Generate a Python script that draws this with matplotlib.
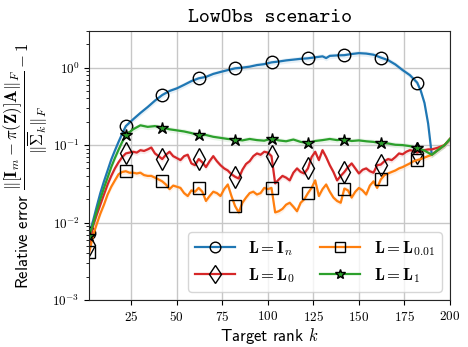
import numpy as np
import matplotlib
matplotlib.use('Agg')
import matplotlib.pyplot as plt

plt.rcParams['font.family'] = 'serif'
plt.rcParams['font.serif'] = ['cmr10']
plt.rcParams['mathtext.fontset'] = 'cm'
plt.rcParams['axes.unicode_minus'] = False
plt.rcParams['axes.formatter.use_mathtext'] = True

# marker positions (every 20 ranks, starting at k=2)
mark_k = [2, 22, 42, 62, 82, 102, 122, 142, 162, 182]

# L = I_n (blue)
k_in = [2, 4, 6, 8, 10, 12, 14, 16, 18, 20, 22, 26, 30, 34, 38, 42, 46, 50, 54, 58,
        62, 66, 70, 74, 78, 82, 86, 90, 94, 98, 102, 106, 110, 114, 118, 122, 126,
        130, 132, 134, 138, 142, 146, 150, 154, 158, 162, 166, 170, 174, 178, 182,
        184, 186, 188, 189, 190, 193, 197, 200]
v_in = [0.0073, 0.0105, 0.016, 0.024, 0.034, 0.047, 0.065, 0.085, 0.11, 0.14, 0.176,
        0.215, 0.26, 0.31, 0.375, 0.443, 0.5, 0.54, 0.6, 0.67,
        0.728, 0.76, 0.83, 0.88, 0.93, 0.98, 1.0, 1.03, 1.08, 1.11, 1.17, 1.2, 1.24,
        1.27, 1.3, 1.32, 1.36, 1.4, 1.33, 1.42, 1.44, 1.45, 1.5, 1.54, 1.52, 1.47,
        1.35, 1.25, 1.1, 0.93, 0.8, 0.64,
        0.5, 0.35, 0.19, 0.12, 0.075, 0.085, 0.1, 0.12]

# L = L_0 (red)
k_l0 = [2, 4, 6, 8, 10, 12, 14, 16, 18, 20, 22, 24, 26, 28, 30, 32, 34, 36, 38, 40,
        42, 44, 46, 48, 50, 52, 54, 56, 58, 60, 62, 64, 66, 68, 70, 72, 74, 76, 78,
        80, 82, 84, 86, 88, 90, 92, 94, 96, 98, 100, 102, 104, 106, 108, 110, 112,
        114, 116, 118, 120, 122, 124, 126, 128, 130, 132, 134, 136, 138, 140, 142,
        144, 146, 148, 150, 152, 154, 156, 158, 160, 162, 164, 166, 168, 170, 172,
        174, 176, 178, 180, 182, 184, 186, 188, 190, 193, 197, 200]
v_l0 = [0.0051, 0.009, 0.0125, 0.017, 0.023, 0.031, 0.04, 0.05, 0.06, 0.07, 0.078,
        0.08, 0.082, 0.08, 0.086, 0.084, 0.088, 0.093, 0.078, 0.072,
        0.066, 0.075, 0.082, 0.072, 0.068, 0.064, 0.072, 0.075, 0.058, 0.055,
        0.066, 0.06, 0.052, 0.062, 0.072, 0.062, 0.055, 0.05, 0.047,
        0.042, 0.039, 0.037, 0.048, 0.057, 0.062, 0.072, 0.078, 0.075, 0.082, 0.08,
        0.072, 0.032, 0.036, 0.04, 0.038, 0.035,
        0.044, 0.05, 0.045, 0.043, 0.05, 0.07, 0.082, 0.064, 0.086, 0.07, 0.055,
        0.045, 0.035, 0.04, 0.045,
        0.052, 0.058, 0.05, 0.043, 0.048, 0.05, 0.046, 0.044, 0.055, 0.056, 0.062,
        0.066, 0.064, 0.07, 0.078,
        0.076, 0.082, 0.086, 0.084, 0.08, 0.084, 0.086, 0.088, 0.088, 0.092, 0.1, 0.12]

# L = L_0.01 (orange)
k_l001 = [2, 4, 6, 8, 10, 12, 14, 16, 18, 20, 22, 24, 26, 28, 30, 32, 34, 36, 38, 40,
          42, 44, 46, 48, 50, 52, 54, 56, 58, 60, 62, 64, 66, 68, 70, 72, 74, 76, 78,
          80, 82, 84, 86, 88, 90, 92, 94, 96, 98, 100, 102, 104, 106, 108, 110, 112,
          114, 116, 118, 120, 122, 124, 126, 128, 130, 132, 134, 136, 138, 140, 142,
          144, 146, 148, 150, 152, 154, 156, 158, 160, 162, 164, 166, 168, 170, 172,
          174, 176, 178, 180, 182, 184, 186, 188, 190, 193, 197, 200]
v_l001 = [0.0042, 0.0068, 0.0095, 0.013, 0.017, 0.023, 0.029, 0.035, 0.042, 0.045,
          0.046, 0.044, 0.044, 0.043, 0.044, 0.041, 0.04, 0.04, 0.038, 0.036,
          0.034, 0.031, 0.027, 0.03, 0.029, 0.028, 0.024, 0.022, 0.026, 0.025,
          0.028, 0.025, 0.019, 0.022, 0.025, 0.024, 0.022, 0.027, 0.031,
          0.022, 0.0163, 0.0135, 0.018, 0.021, 0.024, 0.025, 0.023, 0.024, 0.028, 0.027,
          0.028, 0.0135, 0.014, 0.015, 0.017, 0.018,
          0.016, 0.014, 0.018, 0.02, 0.024, 0.028, 0.035, 0.022, 0.027, 0.031, 0.025,
          0.021, 0.019, 0.018, 0.0275,
          0.026, 0.021, 0.025, 0.028, 0.026, 0.023, 0.03, 0.034, 0.028, 0.036, 0.041,
          0.043, 0.045, 0.047, 0.05,
          0.052, 0.055, 0.058, 0.062, 0.064, 0.066, 0.069, 0.072, 0.075, 0.085, 0.1, 0.12]

# L = L_1 (green)
k_l1 = [2, 4, 6, 8, 10, 12, 14, 16, 18, 20, 22, 26, 30, 34, 38, 42, 46, 50, 54, 58,
        62, 66, 70, 74, 78, 82, 86, 90, 94, 98, 102, 106, 110, 114, 118, 122, 126,
        130, 134, 138, 142, 146, 150, 154, 158, 162, 166, 170, 174, 178, 182, 186,
        190, 193, 197, 200]
v_l1 = [0.0068, 0.0095, 0.014, 0.02, 0.028, 0.038, 0.052, 0.068, 0.087, 0.11, 0.134,
        0.16, 0.18, 0.172, 0.176, 0.168, 0.16, 0.155, 0.15, 0.143,
        0.134, 0.135, 0.128, 0.124, 0.12, 0.118, 0.115, 0.12, 0.116, 0.114, 0.121,
        0.115, 0.112, 0.118, 0.11, 0.106, 0.113, 0.116, 0.12, 0.116, 0.118, 0.113,
        0.115, 0.112, 0.11, 0.106, 0.105, 0.101, 0.1, 0.097, 0.092, 0.085,
        0.075, 0.085, 0.1, 0.12]

series = [
    (k_in, v_in, '#1f77b4', 'o', 9, 'none', r'$\mathbf{L}=\mathbf{I}_n$'),
    (k_l0, v_l0, '#d62728', 'd', 11, 'none', r'$\mathbf{L}=\mathbf{L}_0$'),
    (k_l001, v_l001, '#ff7f0e', 's', 8.5, 'none', r'$\mathbf{L}=\mathbf{L}_{0.01}$'),
    (k_l1, v_l1, '#2ca02c', '*', 9, '#2ca02c', r'$\mathbf{L}=\mathbf{L}_1$'),
]

fig = plt.figure(figsize=(4.68, 3.47), dpi=100)
ax = fig.add_axes([0.191, 0.1355, 0.7705, 0.776])

for k, v, col, mk, ms, mfc, lab in series:
    k = np.array(k)
    v = np.array(v)
    ax.fill_between(k, v * 0.92, v * 1.08, color=col, alpha=0.1, lw=0)
    idx = [int(np.where(k == m)[0][0]) for m in mark_k]
    ax.plot(k, v, color=col, lw=1.6, marker=mk, markevery=idx, ms=ms,
            mfc=mfc, mec='black', mew=1.0, label=lab)

ax.set_yscale('log')
ax.set_xlim(2, 200)
ax.set_ylim(1e-3, 3)
ax.set_xticks([25, 50, 75, 100, 125, 150, 175, 200])
ax.tick_params(labelsize=9.5)
ax.grid(True, which='major', color='0.78', lw=1.0)
for s in ax.spines.values():
    s.set_color('0.15')

ax.set_title('LowObs scenario', family='cmtt10', fontsize=15)
ax.set_xlabel(r'Target rank $k$', family='cmss10', fontsize=12, labelpad=2)
ax.set_ylabel(r'Relative error $\dfrac{\|[\mathbf{I}_m - \pi(\mathbf{Z})]\mathbf{A}\|_F}'
              r'{\|\overline{\Sigma}_k\|_F} - 1$', family='cmss10', fontsize=12, labelpad=2)

ax.legend(loc='lower right', ncol=2, fontsize=12, markerscale=0.85,
          handlelength=2.4, columnspacing=1.5)

fig.savefig('out.png', dpi=100)
